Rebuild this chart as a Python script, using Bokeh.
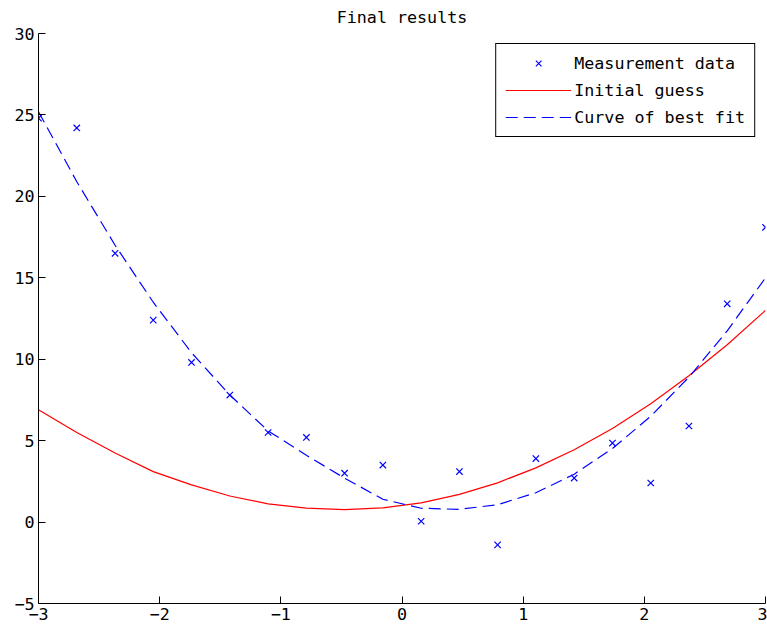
from bokeh.plotting import figure
from bokeh.models import Range1d, FixedTicker, Legend, LegendItem
from bokeh.embed import file_html
from bokeh.resources import INLINE

# Data
x_vals = [-3.0, -2.684, -2.368, -2.053, -1.737, -1.421, -1.105, -0.789, -0.474, -0.158,
          0.158, 0.474, 0.789, 1.105, 1.421, 1.737, 2.053, 2.368, 2.684, 3.0]
measurement = [24.8, 24.2, 16.5, 12.4, 9.8, 7.8, 5.5, 5.2, 3.0, 3.5,
               0.05, 3.1, -1.4, 3.9, 2.7, 4.85, 2.4, 5.9, 13.4, 18.1]
initial_guess = [6.9, 5.5, 4.24, 3.1, 2.28, 1.6, 1.12, 0.86, 0.77, 0.87,
                 1.18, 1.7, 2.41, 3.33, 4.44, 5.75, 7.27, 8.98, 10.89, 13.0]
best_fit = [25.2, 20.9, 17.0, 13.5, 10.4, 7.8, 5.6, 4.1, 2.7, 1.4,
            0.85, 0.78, 1.07, 1.8, 2.94, 4.52, 6.5, 8.9, 11.74, 15.0]
x_ticks = [-3, -2, -1, 0, 1, 2, 3]
y_ticks = [-5, 0, 5, 10, 15, 20, 25, 30]
title_text = "Final results"
labels = ["Measurement data", "Initial guess", "Curve of best fit"]

FONT = "DejaVu Sans Mono"
FS = "16.7px"

p = figure(width=767, height=634, output_backend="svg", toolbar_location=None,
           x_range=Range1d(-3, 3), y_range=Range1d(-5, 30),
           min_border_left=38, min_border_right=2, min_border_top=33, min_border_bottom=31)
p.title.text = title_text
p.title.align = "center"
p.title.vertical_align = "top"
p.title.text_font = FONT
p.title.text_font_size = FS
p.title.text_font_style = "normal"
p.title.text_color = "black"

p.outline_line_color = None
p.xgrid.grid_line_color = None
p.ygrid.grid_line_color = None
p.background_fill_color = "white"
p.border_fill_color = "white"

for ax, ticks in ((p.xaxis[0], x_ticks), (p.yaxis[0], y_ticks)):
    ax.ticker = FixedTicker(ticks=ticks)
    ax.minor_tick_line_color = None
    ax.major_tick_in = 7
    ax.major_tick_out = 0
    ax.axis_line_color = "black"
    ax.major_tick_line_color = "black"
    ax.major_label_text_font = FONT
    ax.major_label_text_font_size = FS
    ax.major_label_text_color = "black"
    ax.major_label_standoff = 4

r_meas = p.scatter(x_vals, measurement, marker="x", size=9, line_color="#0000ff", line_width=1.2)
r_init = p.line(x_vals, initial_guess, line_color="#ff0000", line_width=1.2)
r_fit = p.line(x_vals, best_fit, line_color="#0000ff", line_width=1.2, line_dash="12 6")

legend = Legend(items=[LegendItem(label=labels[0], renderers=[r_meas]),
                       LegendItem(label=labels[1], renderers=[r_init]),
                       LegendItem(label=labels[2], renderers=[r_fit])],
                location="top_right", margin=10, padding=9, spacing=7,
                glyph_width=66, glyph_height=20, label_height=20, label_standoff=3,
                label_text_font=FONT, label_text_font_size=FS, label_text_color="black",
                border_line_color="black", border_line_alpha=1, border_line_width=1,
                background_fill_color="white", background_fill_alpha=1)
p.add_layout(legend, "center")

open("out.html", "w").write(file_html(p, INLINE))
